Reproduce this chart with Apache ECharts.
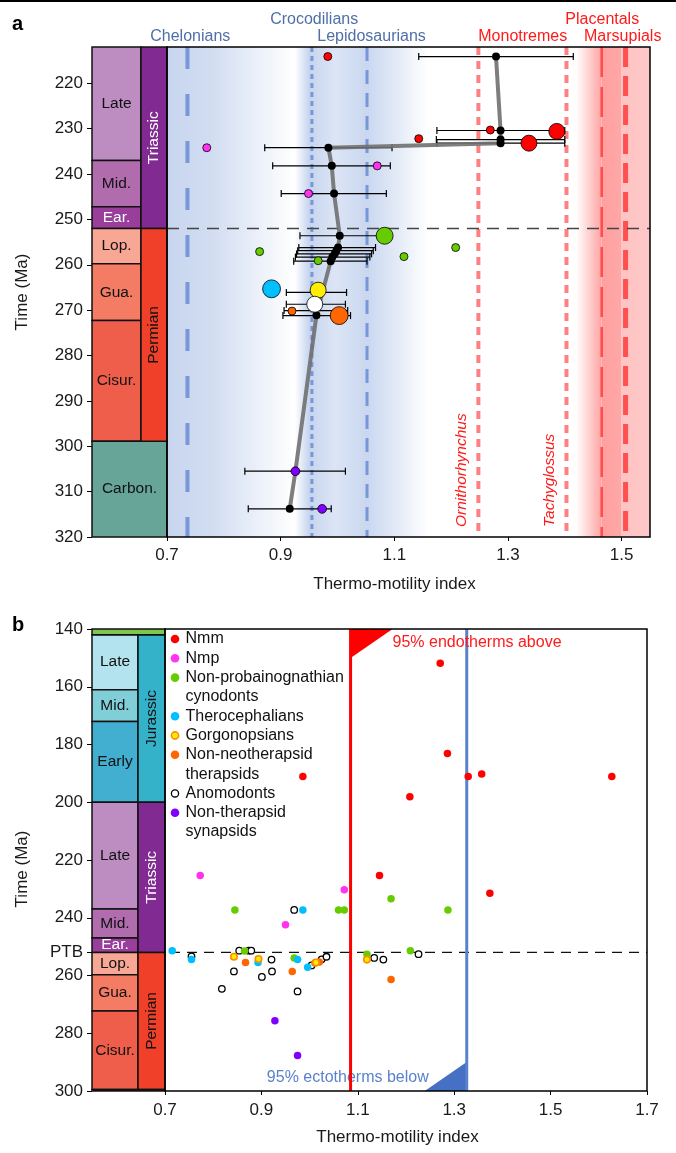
<!DOCTYPE html>
<html>
<head>
<meta charset="utf-8">
<script src="https://cdn.jsdelivr.net/npm/echarts@6/dist/echarts.min.js"></script>
<style>
  html, body { margin: 0; padding: 0; background: #fff; }
  #chart { width: 676px; height: 1153px; }
</style>
</head>
<body>
<div id="chart"></div>
<script>
const FONT = '"Liberation Sans", Arial, Helvetica, sans-serif';

// ---------- panel a ----------
const aAgeMin = 212, aAgeMax = 320;
const aAgeTicks = [220, 230, 240, 250, 260, 270, 280, 290, 300, 310, 320];
const aTmiTicks = [0.7, 0.9, 1.1, 1.3, 1.5];

const aStageName = ['Late', 'Mid.', 'Ear.', 'Lop.', 'Gua.', 'Cisur.', 'Carbon.'];
const aStageTop = [212, 237, 247.2, 252, 259.8, 272.3, 298.9];
const aStageBase = [237, 247.2, 252, 259.8, 272.3, 298.9, 320];
const aPeriodName = ['Triassic', 'Permian'];
const aPeriodTop = [212, 252];
const aPeriodBase = [252, 298.9];

// mean thermo-motility index through time
const meanTMI = [1.279, 1.287, 1.287, 1.287, 0.984, 0.990, 0.994, 1.004, 1.001, 0.998, 0.995, 0.991, 0.988, 0.963, 0.926, 0.916];
const meanAge = [214.1, 230.4, 232.4, 233.2, 234.2, 238.2, 244.3, 253.6, 256.2, 256.9, 257.6, 258.3, 259.2, 271.1, 305.5, 313.8];

// error bars
const errAge = [214.1, 230.4, 232.4, 233.2, 234.2, 238.2, 244.3, 253.6, 256.2, 256.9, 257.6, 258.3, 259.2, 266.1, 268.7, 270.1, 271.2, 305.5, 313.8];
const errLow = [1.143, 1.175, 1.174, 1.175, 0.872, 0.886, 0.901, 0.934, 0.932, 0.930, 0.928, 0.926, 0.923, 0.910, 0.910, 0.906, 0.904, 0.837, 0.843];
const errHigh = [1.415, 1.400, 1.400, 1.400, 1.096, 1.093, 1.086, 1.080, 1.067, 1.063, 1.060, 1.057, 1.052, 1.016, 1.014, 1.018, 1.023, 1.014, 0.989];

// group means: [TMI, age, relative sample weight]
const aNmm = [[0.983, 214.1, 1], [1.269, 230.3, 1], [1.386, 230.6, 4], [1.143, 232.2, 1], [1.337, 233.2, 4]];
const aNmp = [[0.770, 234.2, 1], [1.070, 238.2, 1], [0.949, 244.3, 1]];
const aCyno = [[1.083, 253.6, 4.5], [0.863, 257.1, 1], [0.966, 259.1, 1], [1.117, 258.2, 1], [1.208, 256.2, 1]];
const aThero = [[0.884, 265.3, 5]];
const aGorgo = [[0.966, 265.6, 4]];
const aAnomo = [[0.960, 268.7, 4]];
const aNonNeo = [[0.920, 270.2, 1], [1.003, 271.2, 5]];
const aSynap = [[0.926, 305.5, 1.2], [0.973, 313.8, 1.2]];

// extant reference groups
const refName = ['Chelonians', 'Crocodilians', 'Lepidosaurians', 'Ornithorhynchus', 'Tachyglossus', 'Placentals', 'Marsupials'];
const refTMI = [0.736, 0.955, 1.052, 1.248, 1.403, 1.465, 1.507];
const headName = ['Chelonians', 'Crocodilians', 'Lepidosaurians', 'Monotremes', 'Placentals', 'Marsupials'];
const headTMI = [0.741, 0.959, 1.060, 1.326, 1.466, 1.502];
const headRow = [2, 1, 2, 2, 1, 2];
const bandFrom = [0.70, 0.925, 1.052, 1.42, 1.465, 1.50];
const bandTo = [0.925, 1.052, 1.16, 1.465, 1.50, 1.55];

// ---------- panel b ----------
const bAgeMin = 140, bAgeMax = 300;
const PTB = 252;
const bAgeTicks = [140, 160, 180, 200, 220, 240, 252, 260, 280, 300];
const bTmiTicks = [0.7, 0.9, 1.1, 1.3, 1.5, 1.7];

const bStageName = ['Late', 'Mid.', 'Early', 'Late', 'Mid.', 'Ear.', 'Lop.', 'Gua.', 'Cisur.'];
const bStageTop = [142, 161, 172, 200, 237, 247, 252, 259.7, 272.3];
const bStageBase = [161, 172, 200, 237, 247, 252, 259.7, 272.3, 299.5];
const bPeriodName = ['Jurassic', 'Triassic', 'Permian'];
const bPeriodTop = [142, 200, 252];
const bPeriodBase = [200, 252, 299.5];
const bSpanTop = [140, 299.5];
const bSpanBase = [142, 300];

// 95% thresholds: ectotherms below, endotherms above
const limitKind = ['ecto', 'endo'];
const limitTMI = [1.326, 1.085];

const bNmm = [[1.271, 151.9], [1.286, 183.1], [0.986, 191.1], [1.208, 198.1], [1.329, 191.1], [1.357, 190.2], [1.627, 191.1], [1.374, 231.5], [1.145, 225.4]];
const bNmp = [[0.773, 225.4], [1.072, 230.3], [0.950, 242.4]];
const bCyno = [[1.287, 237.3], [1.169, 233.4], [0.845, 237.3], [1.060, 237.3], [1.072, 237.3], [0.865, 251.5], [1.209, 251.4], [0.968, 253.9], [1.119, 252.6]];
const bThero = [[0.986, 237.3], [0.715, 251.4], [0.755, 254.5], [0.893, 255.5], [0.975, 254.5], [0.996, 257.1]];
const bGorgo = [[0.843, 253.5], [0.894, 254.3], [1.013, 255.5], [1.119, 254.5]];
const bNonNeo = [[0.867, 255.5], [0.964, 258.6], [1.011, 255.7], [1.020, 255.3], [1.169, 261.4]];
const bAnomo = [[0.968, 237.3], [0.854, 251.4], [0.874, 251.4], [0.879, 251.4], [0.755, 253.4], [0.921, 254.5], [0.843, 258.6], [0.901, 260.5], [0.922, 258.6], [1.004, 256.5], [1.025, 254.4], [1.035, 253.5], [0.818, 264.6], [0.975, 265.5], [1.134, 253.9], [1.153, 254.5], [1.226, 252.6]];
const bSynap = [[0.928, 275.7], [0.975, 287.7]];

const legendKey = ['Nmm', 'Nmp', 'Cyno', 'Thero', 'Gorgo', 'NonNeo', 'Anomo', 'Synap'];
const legendName = ['Nmm', 'Nmp', 'Non-probainognathian\ncynodonts', 'Therocephalians', 'Gorgonopsians', 'Non-neotherapsid\ntherapsids', 'Anomodonts', 'Non-therapsid\nsynapsids'];

// ---------- styles ----------
const groupFill = { Nmm: '#ff0000', Nmp: '#ff33f0', Cyno: '#66cc00', Thero: '#00bfff', Gorgo: '#ffee00', NonNeo: '#ff6600', Anomo: '#ffffff', Synap: '#7f00ff' };
const aStageFill = ['#bd8cc0', '#b16cae', '#993e9b', '#f9a795', '#f47c65', '#ef5e4b', '#67a599'];
const aStageInk = ['#111', '#111', '#fff', '#111', '#111', '#111', '#111'];
const aPeriodFill = ['#812b92', '#f0402a'];
const aPeriodInk = ['#fff', '#111'];
const bStageFill = ['#b3e3ee', '#80cfd8', '#42aed0', '#bd8cc0', '#b16cae', '#993e9b', '#f9a795', '#f47c65', '#ef5e4b'];
const bStageInk = ['#111', '#111', '#111', '#111', '#111', '#fff', '#111', '#111', '#111'];
const bPeriodFill = ['#34b2c9', '#812b92', '#f0402a'];
const bPeriodInk = ['#111', '#fff', '#111'];
const bSpanFill = ['#7fc64e', '#67a599'];
const blueRef = 'rgba(105,140,212,0.85)';
const refStyle = [
  { stroke: blueRef, lineWidth: 4, lineDash: [22, 25] },
  { stroke: blueRef, lineWidth: 3, lineDash: [5, 4] },
  { stroke: blueRef, lineWidth: 3, lineDash: [14, 9] },
  { stroke: '#ff8080', lineWidth: 4, lineDash: [8, 6] },
  { stroke: '#ff8080', lineWidth: 4, lineDash: [8, 6] },
  { stroke: '#ff4a4a', lineWidth: 2.5, lineDash: [30, 10] },
  { stroke: '#ff4f4f', lineWidth: 5, lineDash: [20, 9] }
];
const headInk = ['#4f6fa8', '#4f6fa8', '#4f6fa8', '#ff1a1a', '#ff1a1a', '#ff1a1a'];
const bandStops = [
  [[0, '#c7d5ee'], [0.35, '#d2ddf2'], [1, '#ffffff']],
  [[0, '#ffffff'], [0.2, '#c6d4ee'], [0.55, '#dce5f5'], [1, '#c9d7ef']],
  [[0, '#c9d7ef'], [1, '#ffffff']],
  [[0, '#ffffff'], [1, '#ffa3a3']],
  [[0, '#ff9e9e'], [1, '#ffa8a8']],
  [[0, '#ffc3c3'], [1, '#ffc8c8']]
];

function boxRenderer(names, fills, inks, vertical) {
  return function (params, api) {
    const i = params.dataIndex;
    const p0 = api.coord([api.value(0), api.value(1)]);
    const p1 = api.coord([api.value(2), api.value(3)]);
    const w = p1[0] - p0[0], h = p1[1] - p0[1];
    const children = [{
      type: 'rect',
      shape: { x: p0[0], y: p0[1], width: w, height: h },
      style: { fill: fills[i], stroke: '#111', lineWidth: 1.5 }
    }];
    if (names && names[i]) {
      children.push({
        type: 'text', x: p0[0] + w / 2, y: p0[1] + h / 2,
        rotation: vertical ? Math.PI / 2 : 0,
        style: { text: names[i], fill: inks[i], font: '15.5px ' + FONT, align: 'center', verticalAlign: 'middle' }
      });
    }
    return { type: 'group', children: children };
  };
}

function boxData(x0, x1, tops, bases) {
  return tops.map((t, i) => [x0, t, x1, bases[i]]);
}

function frameRenderer(params) {
  const c = params.coordSys;
  return { type: 'rect', shape: { x: c.x, y: c.y, width: c.width, height: c.height }, style: { fill: 'none', stroke: '#000', lineWidth: 1.5 } };
}

function ptbRenderer(color, width, dash, x0) {
  return function (params, api) {
    const c = params.coordSys;
    const y = api.coord([api.value(0), api.value(1)])[1];
    return { type: 'line', shape: { x1: x0 == null ? c.x : x0, y1: y, x2: c.x + c.width, y2: y }, style: { stroke: color, lineWidth: width, lineDash: dash } };
  };
}

function scatterA(key, data) {
  return {
    type: 'scatter', xAxisIndex: 1, yAxisIndex: 1, z: 7, silent: true,
    data: data,
    symbolSize: v => 8 * Math.sqrt(v[2]),
    itemStyle: { color: groupFill[key], borderColor: '#000', borderWidth: 0.8, opacity: 1 }
  };
}

function scatterB(key, data) {
  const st = { color: groupFill[key], opacity: 1 };
  if (key === 'Anomo') { st.borderColor = '#000'; st.borderWidth = 1.3; }
  if (key === 'Gorgo') { st.borderColor = '#ff8c00'; st.borderWidth = 1.6; }
  return {
    type: 'scatter', xAxisIndex: 3, yAxisIndex: 3, z: 7, silent: true,
    data: data, symbolSize: key === 'Anomo' || key === 'Gorgo' ? 6.5 : 7.5, itemStyle: st
  };
}

// legend (panel b) built as text + markers
const legendGraphics = [];
let row = 0;
legendKey.forEach((k, i) => {
  const y = 639 + row * 19.3;
  const mk = { type: 'circle', shape: { cx: 175, cy: y, r: 4.3 }, style: { fill: groupFill[k] } };
  if (k === 'Anomo') { mk.style.stroke = '#000'; mk.style.lineWidth = 1.3; mk.shape.r = 3.6; }
  if (k === 'Gorgo') { mk.style.stroke = '#ff8c00'; mk.style.lineWidth = 1.6; mk.shape.r = 3.6; }
  legendGraphics.push(mk);
  legendGraphics.push({
    type: 'text', x: 185.5, y: y - 9.65,
    style: { text: legendName[i], font: '16px ' + FONT, fill: '#111', lineHeight: 19.3, verticalAlign: 'top', align: 'left' }
  });
  row += legendName[i].split('\n').length;
});

const axisText = { color: '#1a1a1a', fontSize: 17, fontFamily: FONT };
const hidden = { show: false };

const option = {
  animation: false,
  backgroundColor: '#fff',
  grid: [
    { left: 92, top: 47, width: 75, height: 490 },
    { left: 167, top: 47, width: 483, height: 490 },
    { left: 92, top: 629, width: 73, height: 462 },
    { left: 165, top: 629, width: 482, height: 462 }
  ],
  xAxis: [
    { gridIndex: 0, type: 'value', min: 0, max: 1, show: false },
    {
      gridIndex: 1, type: 'value', min: 0.7, max: 1.55, interval: 0.2,
      axisLine: hidden, splitLine: hidden,
      axisTick: { customValues: aTmiTicks, length: 4, lineStyle: { color: '#000' } },
      axisLabel: Object.assign({ customValues: aTmiTicks, margin: 10, formatter: v => v.toFixed(1) }, axisText),
      name: 'Thermo-motility index', nameLocation: 'middle', nameGap: 39,
      nameTextStyle: Object.assign({ padding: [0, 28, 0, 0] }, axisText)
    },
    { gridIndex: 2, type: 'value', min: 0, max: 1, show: false },
    {
      gridIndex: 3, type: 'value', min: 0.7, max: 1.7, interval: 0.2,
      axisLine: hidden, splitLine: hidden,
      axisTick: { customValues: bTmiTicks, length: 4, lineStyle: { color: '#000' } },
      axisLabel: Object.assign({ customValues: bTmiTicks, margin: 11, formatter: v => v.toFixed(1) }, axisText),
      name: 'Thermo-motility index', nameLocation: 'middle', nameGap: 38,
      nameTextStyle: Object.assign({ padding: [0, 17, 0, 0] }, axisText)
    }
  ],
  yAxis: [
    {
      gridIndex: 0, type: 'value', inverse: true, min: aAgeMin, max: aAgeMax,
      axisLine: hidden, splitLine: hidden,
      axisTick: { customValues: aAgeTicks, length: 5, lineStyle: { color: '#000' } },
      axisLabel: Object.assign({ customValues: aAgeTicks, margin: 9 }, axisText),
      name: 'Time (Ma)', nameLocation: 'middle', nameGap: 61, nameTextStyle: axisText
    },
    { gridIndex: 1, type: 'value', inverse: true, min: aAgeMin, max: aAgeMax, show: false },
    {
      gridIndex: 2, type: 'value', inverse: true, min: bAgeMin, max: bAgeMax,
      axisLine: hidden, splitLine: hidden,
      axisTick: { customValues: bAgeTicks, length: 5, lineStyle: { color: '#000' } },
      axisLabel: Object.assign({ customValues: bAgeTicks, margin: 9, formatter: v => (v === PTB ? 'PTB' : String(v)) }, axisText),
      name: 'Time (Ma)', nameLocation: 'middle', nameGap: 61,
      nameTextStyle: Object.assign({ padding: [0, 18, 0, 0] }, axisText)
    },
    { gridIndex: 3, type: 'value', inverse: true, min: bAgeMin, max: bAgeMax, show: false }
  ],
  graphic: [
    { type: 'line', shape: { x1: 0, y1: 1, x2: 676, y2: 1 }, style: { stroke: '#000', lineWidth: 2 } },
    { type: 'text', x: 12, y: 24, style: { text: 'a', font: 'bold 20px ' + FONT, fill: '#000', verticalAlign: 'middle' } },
    { type: 'text', x: 12, y: 625, style: { text: 'b', font: 'bold 20px ' + FONT, fill: '#000', verticalAlign: 'middle' } }
  ].concat(legendGraphics),
  series: [
    // panel a column
    {
      type: 'custom', xAxisIndex: 0, yAxisIndex: 0, silent: true, clip: false, z: 3,
      data: boxData(0, 0.653, aStageTop, aStageBase), encode: { x: [0, 2], y: [1, 3] },
      renderItem: function (params, api) {
        const i = params.dataIndex;
        // the last entry (Carboniferous) has no stages, it fills the whole column
        if (i === aStageName.length - 1) {
          const p0 = api.coord([0, api.value(1)]);
          const p1 = api.coord([1, api.value(3)]);
          return {
            type: 'group', children: [
              { type: 'rect', shape: { x: p0[0], y: p0[1], width: p1[0] - p0[0], height: p1[1] - p0[1] }, style: { fill: aStageFill[i], stroke: '#111', lineWidth: 1.5 } },
              { type: 'text', x: (p0[0] + p1[0]) / 2, y: (p0[1] + p1[1]) / 2, style: { text: aStageName[i], fill: aStageInk[i], font: '15.5px ' + FONT, align: 'center', verticalAlign: 'middle' } }
            ]
          };
        }
        return boxRenderer(aStageName, aStageFill, aStageInk, false)(params, api);
      }
    },
    {
      type: 'custom', xAxisIndex: 0, yAxisIndex: 0, silent: true, clip: false, z: 3,
      data: boxData(0.653, 1, aPeriodTop, aPeriodBase), encode: { x: [0, 2], y: [1, 3] },
      renderItem: boxRenderer(aPeriodName, aPeriodFill, aPeriodInk, true)
    },
    // background bands
    {
      type: 'custom', xAxisIndex: 1, yAxisIndex: 1, silent: true, z: 1,
      data: bandFrom.map((f, i) => [f, aAgeMin, bandTo[i], aAgeMax]),
      encode: { x: [0, 2], y: [1, 3] },
      renderItem: function (params, api) {
        const i = params.dataIndex;
        const p0 = api.coord([api.value(0), api.value(1)]);
        const p1 = api.coord([api.value(2), api.value(3)]);
        const stops = bandStops[i].map(s => ({ offset: s[0], color: s[1] }));
        return {
          type: 'rect', shape: { x: p0[0], y: p0[1], width: p1[0] - p0[0], height: p1[1] - p0[1] },
          style: { fill: new echarts.graphic.LinearGradient(0, 0, 1, 0, stops) }
        };
      }
    },
    // reference lines
    {
      type: 'custom', xAxisIndex: 1, yAxisIndex: 1, silent: true, clip: false, z: 2,
      data: refTMI.map(t => [t, aAgeMax]),
      renderItem: function (params, api) {
        const i = params.dataIndex;
        const c = params.coordSys;
        const x = api.coord([api.value(0), api.value(1)])[0];
        const children = [{ type: 'line', shape: { x1: x, y1: c.y, x2: x, y2: c.y + c.height }, style: refStyle[i] }];
        if (refName[i] === 'Ornithorhynchus' || refName[i] === 'Tachyglossus') {
          children.push({
            type: 'text', x: x - 17, y: c.y + c.height - 10, rotation: Math.PI / 2,
            style: { text: refName[i], fill: '#ff1a1a', font: 'italic 15.5px ' + FONT, align: 'left', verticalAlign: 'middle' }
          });
        }
        return { type: 'group', children: children };
      }
    },
    // headers above panel a
    {
      type: 'custom', xAxisIndex: 1, yAxisIndex: 1, silent: true, clip: false, z: 2,
      data: headTMI.map(t => [t, aAgeMin]),
      renderItem: function (params, api) {
        const i = params.dataIndex;
        const p = api.coord([api.value(0), api.value(1)]);
        return {
          type: 'text', x: p[0], y: p[1] - (headRow[i] === 1 ? 27 : 10),
          style: { text: headName[i], fill: headInk[i], font: '16px ' + FONT, align: 'center', verticalAlign: 'middle' }
        };
      }
    },
    // PTB line, panel a
    {
      type: 'custom', xAxisIndex: 1, yAxisIndex: 1, silent: true, z: 3,
      data: [[0.7, PTB]], renderItem: ptbRenderer('#444', 1.5, [12, 8])
    },
    // error bars
    {
      type: 'custom', xAxisIndex: 1, yAxisIndex: 1, silent: true, z: 4,
      data: errAge.map((a, i) => [errLow[i], a, errHigh[i]]), encode: { x: [0, 2], y: 1 },
      renderItem: function (params, api) {
        const p0 = api.coord([api.value(0), api.value(1)]);
        const x1 = api.coord([api.value(2), api.value(1)])[0];
        const y = p0[1], x0 = p0[0];
        const st = { stroke: '#000', lineWidth: 1.2 };
        return {
          type: 'group', children: [
            { type: 'line', shape: { x1: x0, y1: y, x2: x1, y2: y }, style: st },
            { type: 'line', shape: { x1: x0, y1: y - 3.5, x2: x0, y2: y + 3.5 }, style: st },
            { type: 'line', shape: { x1: x1, y1: y - 3.5, x2: x1, y2: y + 3.5 }, style: st }
          ]
        };
      }
    },
    // mean trend
    {
      type: 'line', xAxisIndex: 1, yAxisIndex: 1, silent: true, z: 5,
      data: meanTMI.map((t, i) => [t, meanAge[i]]),
      symbol: 'circle', symbolSize: 8, showAllSymbol: true,
      itemStyle: { color: '#000' },
      lineStyle: { color: 'rgba(112,112,112,0.9)', width: 4 }
    },
    scatterA('Nmm', aNmm),
    scatterA('Nmp', aNmp),
    scatterA('Cyno', aCyno),
    scatterA('Thero', aThero),
    scatterA('Gorgo', aGorgo),
    scatterA('Anomo', aAnomo),
    scatterA('NonNeo', aNonNeo),
    scatterA('Synap', aSynap),
    { type: 'custom', xAxisIndex: 1, yAxisIndex: 1, silent: true, z: 9, data: [[0.7, aAgeMin]], renderItem: frameRenderer },

    // panel b column
    {
      type: 'custom', xAxisIndex: 2, yAxisIndex: 2, silent: true, clip: false, z: 3,
      data: boxData(0, 0.63, bStageTop, bStageBase), encode: { x: [0, 2], y: [1, 3] },
      renderItem: boxRenderer(bStageName, bStageFill, bStageInk, false)
    },
    {
      type: 'custom', xAxisIndex: 2, yAxisIndex: 2, silent: true, clip: false, z: 3,
      data: boxData(0.63, 1, bPeriodTop, bPeriodBase), encode: { x: [0, 2], y: [1, 3] },
      renderItem: boxRenderer(bPeriodName, bPeriodFill, bPeriodInk, true)
    },
    {
      type: 'custom', xAxisIndex: 2, yAxisIndex: 2, silent: true, clip: false, z: 3,
      data: boxData(0, 1, bSpanTop, bSpanBase), encode: { x: [0, 2], y: [1, 3] },
      renderItem: boxRenderer(null, bSpanFill, null, false)
    },
    // thresholds
    {
      type: 'custom', xAxisIndex: 3, yAxisIndex: 3, silent: true, clip: false, z: 4,
      data: limitTMI.map(t => [t, bAgeMax]),
      renderItem: function (params, api) {
        const c = params.coordSys;
        const x = api.coord([api.value(0), api.value(1)])[0];
        const top = c.y, bot = c.y + c.height;
        if (limitKind[params.dataIndex] === 'endo') {
          return {
            type: 'group', children: [
              { type: 'polygon', shape: { points: [[x, top], [x + 42, top], [x, top + 29]] }, style: { fill: '#ff0000' } },
              { type: 'line', shape: { x1: x, y1: top, x2: x, y2: bot }, style: { stroke: '#ff0000', lineWidth: 3 } },
              { type: 'text', x: x + 42, y: top + 14, style: { text: '95% endotherms above', fill: '#ff1a1a', font: '16px ' + FONT, align: 'left', verticalAlign: 'middle' } }
            ]
          };
        }
        return {
          type: 'group', children: [
            { type: 'polygon', shape: { points: [[x - 42, bot], [x, bot], [x, bot - 29]] }, style: { fill: '#4570c4' } },
            { type: 'line', shape: { x1: x, y1: top, x2: x, y2: bot }, style: { stroke: '#5a82cc', lineWidth: 3 } },
            { type: 'text', x: x - 38, y: bot - 13, style: { text: '95% ectotherms below', fill: '#5a82cc', font: '16px ' + FONT, align: 'right', verticalAlign: 'middle' } }
          ]
        };
      }
    },
    {
      type: 'custom', xAxisIndex: 3, yAxisIndex: 3, silent: true, z: 3,
      data: [[0.7, PTB]], renderItem: ptbRenderer('#111', 1.3, [10, 7], 170)
    },
    scatterB('Anomo', bAnomo),
    scatterB('Synap', bSynap),
    scatterB('Cyno', bCyno),
    scatterB('Thero', bThero),
    scatterB('NonNeo', bNonNeo),
    scatterB('Gorgo', bGorgo),
    scatterB('Nmp', bNmp),
    scatterB('Nmm', bNmm),
    { type: 'custom', xAxisIndex: 3, yAxisIndex: 3, silent: true, z: 9, data: [[0.7, bAgeMin]], renderItem: frameRenderer }
  ]
};

const chart = echarts.init(document.getElementById('chart'));
chart.setOption(option);
</script>
</body>
</html>
